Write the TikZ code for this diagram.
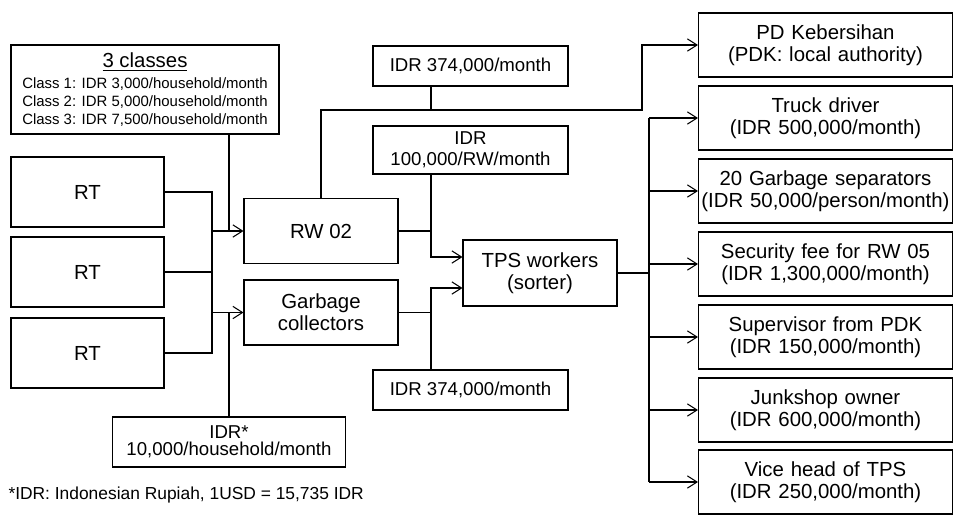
\documentclass[tikz,border=0pt]{standalone}
\usepackage{fontspec}
\setmainfont{Liberation Sans}
\usetikzlibrary{arrows.meta}

\begin{document}
\begin{tikzpicture}[>={Straight Barb[length=5.5pt,width=7pt]}, x=0.02cm, y=-0.02cm,
  font=\fontsize{11.6}{12.6}\selectfont, line width=0.6pt,
  nd/.style={draw, align=center, inner sep=1pt},
  rt/.style={nd, minimum width=3.06cm, minimum height=1.4cm},
  mid/.style={nd, minimum width=3.08cm, minimum height=1.3cm},
  fee/.style={nd, minimum width=3.9cm, minimum height=0.8cm, font=\fontsize{10.6}{12}\selectfont},
  pay/.style={nd, text width=5.0cm, minimum height=1.28cm, inner sep=0.04cm},
  edge/.style={line width=0.6pt}]
  \useasboundingbox (0,0) rectangle (954,515);
  % households and the RW
  \node[nd, minimum width=5.36cm, minimum height=1.78cm, font=\fontsize{8.5}{10.2}\selectfont] (classes) at (145,89.5)
    {{\fontsize{11.6}{12.6}\selectfont\underline{3 classes}}\\[1.7pt]
     Class 1: IDR 3,000/household/month\\
     Class 2: IDR 5,000/household/month\\
     Class 3: IDR 7,500/household/month};
  \node[rt] (rt1) at (87.5,192) {RT};
  \node[rt] (rt2) at (87.5,272) {RT};
  \node[rt] (rt3) at (87.5,353) {RT};
  \node[mid] (rw) at (321,231) {RW 02};
  \node[mid] (gc) at (321,312.5) {Garbage\\ collectors};
  \node[nd, minimum width=4.66cm, minimum height=1cm, font=\fontsize{10.6}{9.8}\selectfont] (hh) at (229,442)
    {IDR*\\ 10,000/household/month};
  % fees and the TPS
  \node[fee] (fee1) at (470.5,66) {IDR 374,000/month};
  \node[fee, minimum height=0.96cm] (rwfee) at (470.5,150) {IDR\\ 100,000/RW/month};
  \node[fee] (fee2) at (470.5,390) {IDR 374,000/month};
  \node[mid, minimum height=1.32cm] (tps) at (540,273) {TPS workers\\ (sorter)};
  % payments
  \node[pay] (pdk) at (825.5,45) {PD Kebersihan\\ (PDK: local authority)};
  \node[pay] (truck) at (825.5,118) {Truck driver\\ (IDR 500,000/month)};
  \node[pay] (sep) at (825.5,191) {20 Garbage separators\\ (IDR 50,000/person/month)};
  \node[pay] (secu) at (825.5,264) {Security fee for RW 05\\ (IDR 1,300,000/month)};
  \node[pay] (supv) at (825.5,337) {Supervisor from PDK\\ (IDR 150,000/month)};
  \node[pay] (junk) at (825.5,410) {Junkshop owner\\ (IDR 600,000/month)};
  \node[pay] (vice) at (825.5,482) {Vice head of TPS\\ (IDR 250,000/month)};
  \node[anchor=west, inner sep=0pt, font=\fontsize{9.9}{11}\selectfont] (note) at (8,495)
    {*IDR: Indonesian Rupiah, 1USD = 15,735 IDR};
  % join points
  \coordinate (jrt) at (212,0);
  \coordinate (jin) at (229,0);
  \coordinate (jtop) at (431,110);
  \coordinate (jmid) at (431,0);
  \coordinate (jpdk) at (642,110);
  \coordinate (jbus) at (649,0);
  % households to RW 02 and the collectors
  \draw[edge] (rt1.east) -- (rt1.east -| jrt) -- (rt3.east -| jrt) -- (rt3.east);
  \draw[edge] (rt2.east) -- (rt2.east -| jrt);
  \draw[edge, ->] (rw.west -| jrt) -- (rw.west);
  \draw[edge, ->] (gc.west -| jrt) -- (gc.west);
  \draw[edge] (classes.south -| jin) -- (rw.west -| jin);
  \draw[edge] (hh.north) -- (gc.west -| hh.north);
  % RW 02 out
  \draw[edge, ->] (rw.north) |- (jpdk) |- (pdk.west);
  \draw[edge] (fee1.south -| jtop) -- (jtop);
  \draw[edge] (rw.east) -- (rw.east -| jmid);
  \draw[edge, ->] (rwfee.south -| jmid) |- ([yshift=0.32cm]tps.west);
  % collectors to TPS
  \draw[edge] (gc.east) -- (gc.east -| jmid);
  \draw[edge, ->] (fee2.north -| jmid) |- ([yshift=-0.3cm]tps.west);
  % TPS out
  \draw[edge] (tps.east) -- (tps.east -| jbus);
  \draw[edge] (truck.west -| jbus) -- (vice.west -| jbus);
  \foreach \n in {truck, sep, secu, supv, junk, vice}
    \draw[edge, ->] (\n.west -| jbus) -- (\n.west);
\end{tikzpicture}
\end{document}
